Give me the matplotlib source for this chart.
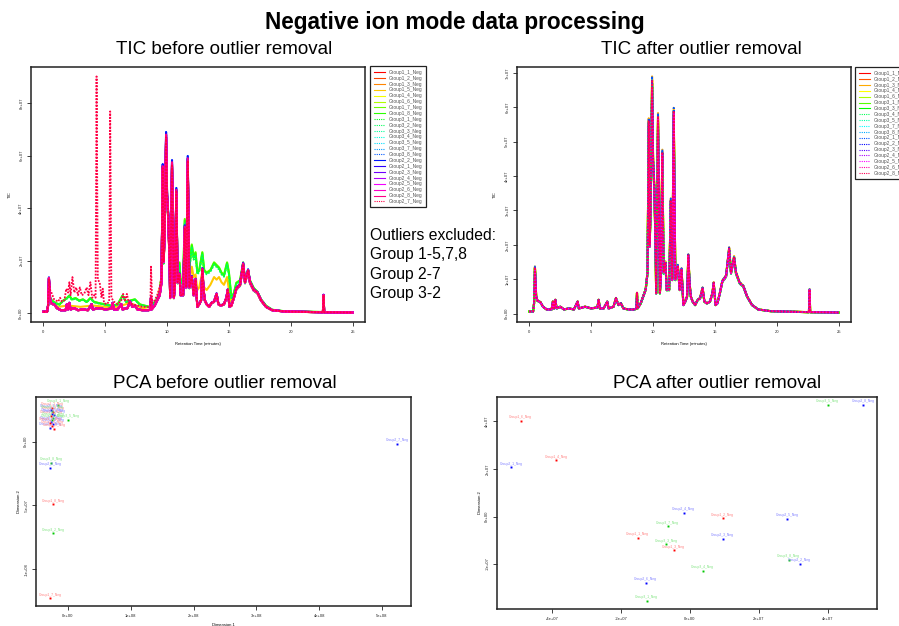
import colorsys
import numpy as np
import matplotlib.pyplot as plt
from matplotlib.lines import Line2D
from matplotlib.ticker import FuncFormatter

plt.rcParams['font.family'] = ['Liberation Sans', 'DejaVu Sans']

# chromatogram points: (retention time min, TIC in 1e7)
base_pts = [(0.0, 0.06), (0.3, 0.06), (0.38, 0.3), (0.45, 1.35), (0.55, 0.5), (0.65, 0.38), (0.9, 0.33),
            (1.1, 0.2), (1.4, 0.12), (1.8, 0.12), (1.9, 0.35), (2.0, 0.15), (2.1, 0.4), (2.2, 0.15),
            (2.5, 0.2), (2.8, 0.12), (3.2, 0.15), (3.6, 0.12), (3.9, 0.35), (4.0, 0.15), (4.5, 0.2),
            (5.0, 0.15), (5.5, 0.18), (5.6, 0.4), (5.7, 0.15), (6.0, 0.15), (6.3, 0.35), (6.4, 0.15),
            (6.8, 0.2), (7.0, 0.45), (7.2, 0.25), (7.4, 0.3), (7.6, 0.15), (8.0, 0.12), (8.5, 0.12),
            (8.65, 0.15), (8.7, 0.6), (8.75, 0.15), (9.0, 0.3), (9.2, 0.5), (9.4, 0.7), (9.55, 1.2),
            (9.65, 5.6), (9.72, 2.0), (9.8, 3.0), (9.92, 6.8), (10.0, 4.5), (10.1, 3.7), (10.2, 2.0),
            (10.25, 0.6), (10.4, 5.75), (10.55, 0.6), (10.62, 1.0), (10.75, 4.7), (10.85, 1.2),
            (11.0, 1.5), (11.1, 0.7), (11.3, 0.7), (11.43, 3.3), (11.55, 1.0), (11.67, 5.9), (11.8, 1.0),
            (12.0, 1.4), (12.15, 0.7), (12.3, 1.3), (12.45, 0.25), (12.6, 0.35), (12.75, 0.5),
            (12.85, 1.7), (12.95, 0.9), (13.05, 0.5), (13.2, 0.35), (13.4, 0.25), (13.6, 0.4),
            (13.8, 0.45), (14.0, 0.75), (14.15, 0.35), (14.35, 0.3), (14.6, 0.35), (14.8, 0.6),
            (14.9, 0.9), (15.05, 0.25), (15.2, 0.3), (15.4, 0.6), (15.6, 0.95), (15.9, 1.1),
            (16.15, 1.9), (16.3, 1.2), (16.55, 1.65), (16.7, 1.2), (17.0, 0.9), (17.3, 0.8),
            (17.6, 0.5), (18.0, 0.25), (18.5, 0.12), (19.5, 0.07), (22.6, 0.04), (22.65, 0.7),
            (22.7, 0.04), (25.0, 0.03)]

# raised traces (green ones before removal)
green_pts = [(0.0, 0.06), (0.3, 0.06), (0.38, 0.3), (0.45, 1.3), (0.55, 0.6), (0.7, 0.5), (1.0, 0.4),
             (1.3, 0.35), (1.6, 0.5), (1.9, 0.6), (2.1, 0.7), (2.3, 0.55), (2.6, 0.6), (2.9, 0.5),
             (3.2, 0.55), (3.5, 0.45), (3.8, 0.6), (4.1, 0.45), (4.5, 0.4), (5.0, 0.35), (5.5, 0.3),
             (6.0, 0.35), (6.4, 0.7), (6.7, 0.45), (7.0, 0.5), (7.4, 0.55), (7.8, 0.35), (8.2, 0.3),
             (8.6, 0.25), (8.8, 0.35), (9.1, 0.5), (9.4, 0.8), (9.55, 1.5), (9.65, 5.0), (9.72, 2.2),
             (9.8, 3.2), (9.92, 6.6), (10.0, 4.6), (10.1, 3.8), (10.2, 2.2), (10.25, 0.8), (10.4, 5.7),
             (10.55, 0.9), (10.62, 1.3), (10.75, 4.6), (10.85, 1.6), (11.0, 2.0), (11.1, 1.2),
             (11.3, 1.4), (11.43, 3.7), (11.55, 1.6), (11.67, 5.8), (11.8, 1.8), (12.0, 2.7),
             (12.15, 2.2), (12.3, 2.4), (12.45, 1.6), (12.6, 1.7), (12.85, 2.4), (13.0, 1.7),
             (13.2, 1.6), (13.5, 1.7), (13.8, 2.0), (14.0, 1.9), (14.2, 1.8), (14.4, 1.6), (14.6, 1.5),
             (14.85, 2.0), (15.0, 1.6), (15.2, 0.6), (15.4, 0.8), (15.6, 1.2), (15.9, 1.3), (16.15, 2.0),
             (16.3, 1.3), (16.55, 1.7), (16.7, 1.3), (17.0, 1.0), (17.3, 0.85), (17.6, 0.55),
             (18.0, 0.3), (18.5, 0.14), (19.5, 0.08), (22.6, 0.05), (22.65, 0.7), (22.7, 0.05),
             (25.0, 0.04)]

# middle-raised trace (orange, Group1_5)
orange_pts = [(0.0, 0.06), (0.3, 0.06), (0.38, 0.3), (0.45, 1.3), (0.55, 0.5), (0.7, 0.4), (1.2, 0.25),
              (2.0, 0.3), (3.0, 0.25), (4.0, 0.3), (5.0, 0.25), (6.0, 0.25), (7.0, 0.4), (8.0, 0.2),
              (8.7, 0.25), (9.2, 0.5), (9.55, 1.3), (9.65, 5.4), (9.72, 2.0), (9.8, 3.0), (9.92, 6.7),
              (10.0, 4.5), (10.1, 3.7), (10.2, 2.0), (10.25, 0.7), (10.4, 5.7), (10.55, 0.7),
              (10.62, 1.1), (10.75, 4.6), (10.85, 1.3), (11.0, 1.6), (11.1, 0.9), (11.3, 1.0),
              (11.43, 3.4), (11.55, 1.2), (11.67, 5.8), (11.8, 1.2), (12.0, 1.8), (12.15, 1.4),
              (12.3, 1.5), (12.45, 0.9), (12.6, 1.0), (12.85, 1.6), (13.0, 1.0), (13.2, 0.9),
              (13.5, 1.1), (13.8, 1.4), (14.0, 1.3), (14.2, 1.4), (14.4, 1.2), (14.6, 1.1),
              (14.85, 1.4), (15.0, 0.9), (15.2, 0.4), (15.4, 0.7), (15.6, 1.0), (15.9, 1.1),
              (16.15, 1.9), (16.3, 1.2), (16.55, 1.6), (16.7, 1.2), (17.0, 0.9), (17.3, 0.8),
              (17.6, 0.5), (18.0, 0.25), (18.5, 0.12), (19.5, 0.07), (22.6, 0.04), (22.65, 0.7),
              (22.7, 0.04), (25.0, 0.03)]

# early part of the spiking outlier (Group2_7), joins base after 9.6 min
outlier_pts = [(0.0, 0.06), (0.3, 0.06), (0.38, 0.3), (0.45, 1.3), (0.55, 0.9), (0.7, 0.75), (0.85, 0.55),
               (1.0, 0.5), (1.2, 0.45), (1.35, 0.6), (1.5, 0.45), (1.7, 0.5), (1.85, 0.95), (2.0, 0.8),
               (2.1, 1.2), (2.2, 0.7), (2.35, 1.4), (2.5, 0.8), (2.65, 1.0), (2.8, 0.7), (2.95, 1.0),
               (3.1, 0.7), (3.3, 0.75), (3.5, 1.0), (3.65, 0.7), (3.8, 1.2), (3.95, 0.6), (4.1, 0.7),
               (4.22, 0.6), (4.3, 9.15), (4.4, 1.3), (4.55, 1.2), (4.7, 0.6), (4.8, 0.95), (4.9, 0.4),
               (5.1, 0.35), (5.32, 0.45), (5.4, 7.8), (5.5, 0.6), (5.7, 0.45), (6.0, 0.35), (6.3, 0.5),
               (6.45, 0.75), (6.6, 0.5), (6.75, 0.75), (6.9, 0.4), (7.2, 0.35), (7.6, 0.3), (8.0, 0.25),
               (8.5, 0.25), (8.65, 0.3), (8.7, 1.8), (8.8, 0.4), (9.0, 0.5), (9.2, 0.7), (9.4, 1.0),
               (9.55, 1.4)]

before_names = ['Group1_1_Neg', 'Group1_2_Neg', 'Group1_3_Neg', 'Group1_5_Neg', 'Group1_4_Neg',
                'Group1_6_Neg', 'Group1_7_Neg', 'Group1_8_Neg', 'Group3_1_Neg', 'Group3_2_Neg',
                'Group3_3_Neg', 'Group3_4_Neg', 'Group3_5_Neg', 'Group3_7_Neg', 'Group3_8_Neg',
                'Group2_2_Neg', 'Group2_1_Neg', 'Group2_3_Neg', 'Group2_4_Neg', 'Group2_5_Neg',
                'Group2_6_Neg', 'Group2_8_Neg', 'Group2_7_Neg']
before_profile = ['base', 'base', 'base', 'orange', 'base', 'base', 'green', 'green', 'base', 'green',
                  'base', 'base', 'base', 'base', 'base', 'base', 'base', 'base', 'base', 'base',
                  'base', 'base', 'outlier']
before_dotted = [0, 0, 0, 0, 0, 0, 0, 0, 1, 1, 1, 1, 1, 1, 1, 0, 0, 0, 0, 0, 0, 0, 1]
# height of the main peak (~9.9 min) of each trace, 1e7
before_peak = [6.6, 6.5, 6.7, 6.7, 6.6, 6.5, 6.6, 6.5, 6.4, 6.3, 6.6, 6.7, 6.8, 6.9, 6.8,
               6.9, 6.8, 6.7, 6.6, 6.6, 6.7, 6.8, 6.7]

after_names = ['Group1_1_Neg', 'Group1_2_Neg', 'Group1_3_Neg', 'Group1_4_Neg', 'Group1_6_Neg',
               'Group3_1_Neg', 'Group3_3_Neg', 'Group3_4_Neg', 'Group3_5_Neg', 'Group3_7_Neg',
               'Group3_8_Neg', 'Group2_1_Neg', 'Group2_2_Neg', 'Group2_3_Neg', 'Group2_4_Neg',
               'Group2_5_Neg', 'Group2_6_Neg', 'Group2_8_Neg']
after_dotted = [0, 0, 0, 0, 0, 0, 0, 1, 1, 1, 1, 1, 1, 1, 1, 1, 1, 1]
after_peak = [6.7, 6.8, 6.9, 6.8, 6.6, 6.7, 6.6, 6.5, 6.7, 6.6, 6.8, 6.9, 6.8, 6.7, 6.6, 6.7,
              6.6, 6.8]

# PCA scores
pca_before_x = [-1.59e7, -2.55e7, -2.71e7, -2.39e7, -2.55e7, -2.71e7, -2.39e7, -2.55e7, -2.71e7,
                -2.39e7, -2.55e7, -2.87e7, -2.23e7, 0.0, -2.55e7, -2.23e7, -2.87e7, -2.71e7,
                -2.87e7, -2.39e7, -2.39e7, -2.87e7, 5.24e8]
pca_before_y = [2.89e7, 2.66e7, 2.5e7, 2.34e7, 2.19e7, 2.03e7, 1.88e7, 1.72e7, 1.56e7, 1.41e7,
                1.25e7, 1.09e7, 1.02e7, 1.72e7, 2.42e7, 2.11e7, 1.48e7, -1.64e7, -2.03e7, -4.92e7,
                -7.19e7, -1.227e8, -1.6e6]
pca_before_group = [3, 1, 2, 1, 2, 1, 3, 3, 2, 2, 1, 2, 1, 3, 3, 2, 1, 3, 2, 1, 3, 1, 2]
pca_before_label = ['Group3_1_Neg', 'Group1_1_Neg', 'Group2_1_Neg', 'Group1_2_Neg', 'Group2_2_Neg',
                    'Group1_3_Neg', 'Group3_3_Neg', 'Group3_4_Neg', 'Group2_3_Neg', 'Group2_4_Neg',
                    'Group1_4_Neg', 'Group2_5_Neg', 'Group1_6_Neg', 'Group3_5_Neg', 'Group3_7_Neg',
                    'Group2_6_Neg', 'Group1_5_Neg', 'Group3_8_Neg', 'Group2_8_Neg', 'Group1_8_Neg',
                    'Group3_2_Neg', 'Group1_7_Neg', 'Group2_7_Neg']

pca_after_x = [-4.91e7, -5.19e7, -3.88e7, -1.8e6, 9.5e6, -6.4e6, 9.5e6, -1.52e7, -6.9e6, -4.7e6,
               3.7e6, -1.28e7, -1.26e7, 4.0e7, 5.02e7, 2.82e7, 2.87e7, 3.19e7]
pca_after_y = [4.02e7, 2.07e7, 2.36e7, 1.6e6, -8e5, -4.1e6, -9.3e6, -9.0e6, -1.17e7, -1.42e7,
               -2.29e7, -2.8e7, -3.56e7, 4.7e7, 4.7e7, -1.1e6, -1.81e7, -2.0e7]
pca_after_group = [1, 2, 1, 2, 1, 3, 2, 1, 3, 1, 3, 2, 3, 3, 2, 2, 3, 2]
pca_after_label = ['Group1_6_Neg', 'Group2_1_Neg', 'Group1_4_Neg', 'Group2_4_Neg', 'Group1_2_Neg',
                   'Group3_7_Neg', 'Group2_3_Neg', 'Group1_1_Neg', 'Group3_3_Neg', 'Group1_3_Neg',
                   'Group3_4_Neg', 'Group2_6_Neg', 'Group3_1_Neg', 'Group3_5_Neg', 'Group2_8_Neg',
                   'Group2_5_Neg', 'Group3_8_Neg', 'Group2_2_Neg']

group_col = {1: '#ff0000', 2: '#0000ff', 3: '#00c800'}
group_lab = {1: '#ff7f7f', 2: '#7f7fff', 3: '#7fe37f'}

profiles = {'base': base_pts, 'green': green_pts, 'orange': orange_pts,
            'outlier': outlier_pts + [p for p in base_pts if p[0] > 9.6]}

W, H = 899, 626
fig = plt.figure(figsize=(W / 100, H / 100), dpi=100)


def box(x0, y0, x1, y1):
    return fig.add_axes([x0 / W, 1 - y1 / H, (x1 - x0) / W, (y1 - y0) / H])


sci = FuncFormatter(lambda v, _: f"{v:.0e}")


def style(ax):
    for s in ax.spines.values():
        s.set_color('#222222')
        s.set_linewidth(1.1)
    ax.tick_params(length=3, width=0.6, pad=2.5, labelsize=3, colors='#222222')
    ax.xaxis.set_major_formatter(sci)
    ax.yaxis.set_major_formatter(sci)
    for lbl in ax.get_yticklabels():
        lbl.set_rotation(90)
        lbl.set_va('center')


def rainbow(n):
    return [colorsys.hsv_to_rgb(i / n, 1, 1) for i in range(n)]


def tic_panel(ax, names, profs, dotted, peaks, yticks):
    cols = rainbow(len(names))
    handles = []
    for name, pr, dt, pk, c in zip(names, profs, dotted, peaks, cols):
        rt, tic = zip(*profiles[pr])
        if dt:
            ax.plot(rt, np.array(tic) * 1e7 * pk / 6.8, color=c, lw=1.3, ls=(0, (1, 0.8)))
        else:
            ax.plot(rt, np.array(tic) * 1e7 * pk / 6.8, color=c, lw=1.5)
        handles.append(Line2D([], [], color=c, lw=0.8, ls=(0, (1, 1)) if dt else '-', label=name))
    ax.margins(x=0.04, y=0.04)
    ax.set_xticks([0, 5, 10, 15, 20, 25])
    ax.set_yticks(yticks)
    style(ax)
    ax.xaxis.set_major_formatter(FuncFormatter(lambda v, _: f"{v:g}"))
    ax.set_xlabel('Retention Time (minutes)', fontsize=3)
    ax.set_ylabel('TIC', fontsize=3)
    return handles


def pca_panel(ax, xs, ys, groups, labels, xticks, yticks):
    for x, y, g, lab in zip(xs, ys, groups, labels):
        ax.plot(x, y, 's', ms=1.4, color=group_col[g], mew=0)
        ax.annotate(lab, (x, y), xytext=(0, 1.2), textcoords='offset points', ha='center',
                    va='bottom', fontsize=2.4, color=group_lab[g])
    ax.margins(x=0.04, y=0.04)
    ax.set_xticks(xticks)
    ax.set_yticks(yticks)
    style(ax)
    ax.set_xlabel('Dimension 1', fontsize=3)
    ax.set_ylabel('Dimension 2', fontsize=3)


ax1 = box(31, 67, 365, 322)
h1 = tic_panel(ax1, before_names, before_profile, before_dotted, before_peak, [0, 2e7, 4e7, 6e7, 8e7])
ax1.xaxis.set_label_coords(0.5, -0.078)
ax1.yaxis.set_label_coords(-0.057, 0.5)

ax2 = box(517, 67, 851, 322)
h2 = tic_panel(ax2, after_names, ['base'] * len(after_names), after_dotted, after_peak,
               [0, 1e7, 2e7, 3e7, 4e7, 5e7, 6e7, 7e7])
ax2.xaxis.set_label_coords(0.5, -0.078)
ax2.yaxis.set_label_coords(-0.06, 0.5)

for hs, x0, y0 in [(h1, 368, 64), (h2, 853, 65)]:
    leg = fig.legend(handles=hs, loc='upper left', bbox_to_anchor=(x0 / W, 1 - y0 / H),
                     fontsize=3.5, handlelength=2.2, labelspacing=0.18, borderpad=0.7,
                     handletextpad=0.9, fancybox=False, edgecolor='#222222', framealpha=1)
    leg.get_frame().set_linewidth(0.9)
    for t in leg.get_texts():
        t.set_color('#555555')

ax3 = box(36, 397, 411, 606)
pca_panel(ax3, pca_before_x, pca_before_y, pca_before_group, pca_before_label,
          [0, 1e8, 2e8, 3e8, 4e8, 5e8], [-1e8, -5e7, 0])
ax3.xaxis.set_label_coords(0.5, -0.08)
ax3.yaxis.set_label_coords(-0.04, 0.5)

ax4 = box(497, 397, 877, 609)
pca_panel(ax4, pca_after_x, pca_after_y, pca_after_group, pca_after_label,
          [-4e7, -2e7, 0, 2e7, 4e7], [-2e7, 0, 2e7, 4e7])
ax4.xaxis.set_label_coords(0.5, -0.08)
ax4.yaxis.set_label_coords(-0.04, 0.5)

fig.text(455 / W, 1 - 22 / H, 'Negative ion mode data processing', ha='center', va='center',
         fontsize=16.3, fontweight='bold')
fig.text(224 / W, 1 - 50 / H, 'TIC before outlier removal', ha='center', va='center', fontsize=13.5)
fig.text(701 / W, 1 - 50 / H, 'TIC after outlier removal', ha='center', va='center', fontsize=13.5)
fig.text(225 / W, 1 - 383 / H, 'PCA before outlier removal', ha='center', va='center', fontsize=13.5)
fig.text(717 / W, 1 - 383 / H, 'PCA after outlier removal', ha='center', va='center', fontsize=13.5)

notes = ['Outliers excluded:', 'Group 1-5,7,8', 'Group 2-7', 'Group 3-2']
for i, s in enumerate(notes):
    fig.text(370 / W, 1 - (240 + 19.5 * i) / H, s, ha='left', va='baseline', fontsize=11.3, zorder=0)

fig.savefig('out.png', dpi=100)
